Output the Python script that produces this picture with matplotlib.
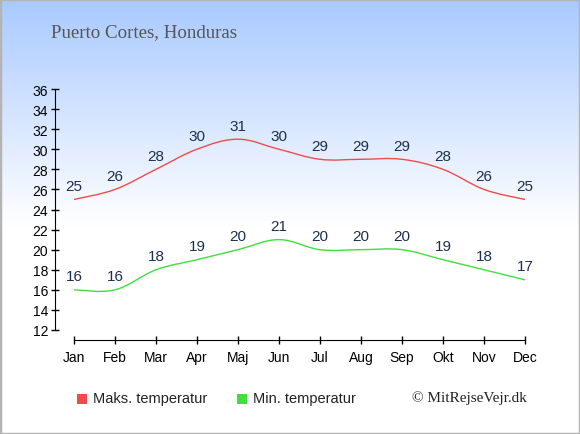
import numpy as np
import matplotlib
matplotlib.use("Agg")
import matplotlib.pyplot as plt
from matplotlib.path import Path
from matplotlib.patches import PathPatch, Rectangle

months = ["Jan", "Feb", "Mar", "Apr", "Maj", "Jun", "Jul", "Aug", "Sep", "Okt", "Nov", "Dec"]
max_temp = [25, 26, 28, 30, 31, 30, 29, 29, 29, 28, 26, 25]
min_temp = [16, 16, 18, 19, 20, 21, 20, 20, 20, 19, 18, 17]
yticks = list(range(12, 37, 2))

title = "Puerto Cortes, Honduras"
max_label = "Maks. temperatur"
min_label = "Min. temperatur"
credit = "\u00a9 MitRejseVejr.dk"

W, H = 580, 435
fig = plt.figure(figsize=(W / 100, H / 100), dpi=100)

# background gradient: light blue on top fading to white
bg = fig.add_axes([0, 0, 1, 1])
bg.set_axis_off()
g = np.linspace(0, 1, 256)
g = np.clip(g / 0.52, 0, 1)
top = np.array([0.66, 0.79, 1.0])
img = top[None, :] * (1 - g[:, None]) + np.ones(3)[None, :] * g[:, None]
bg.imshow(img[:, None, :].repeat(2, axis=1), aspect="auto", extent=[0, 1, 0, 1])
bg.set_xlim(0, 1)
bg.set_ylim(0, 1)
bg.add_patch(Rectangle((0, 0), 1, 1, transform=bg.transAxes, fill=False,
                       edgecolor="#b4b4b4", linewidth=2.5))

# plot area in pixels
x0, x1 = 55, 545
y_top, y_bot = 90, 331
ax = fig.add_axes([x0 / W, 1 - y_bot / H, (x1 - x0) / W, (y_bot - y_top) / H])
ax.patch.set_alpha(0)
ax.set_ylim(12, 36)
px_per_month = (525 - 74) / 11
ax.set_xlim(-(74 - x0) / px_per_month, -(74 - x0) / px_per_month + (x1 - x0) / px_per_month)

xs = np.arange(len(months))


def smooth_path(x, y, t=0.18):
    x = np.asarray(x, float)
    y = np.asarray(y, float)
    verts = [(x[0], y[0])]
    codes = [Path.MOVETO]
    n = len(x)
    for i in range(n - 1):
        p0 = i - 1 if i > 0 else i
        p3 = i + 2 if i + 2 < n else i + 1
        c1 = (x[i] + (x[i + 1] - x[p0]) * t, y[i] + (y[i + 1] - y[p0]) * t)
        c2 = (x[i + 1] - (x[p3] - x[i]) * t, y[i + 1] - (y[p3] - y[i]) * t)
        verts += [c1, c2, (x[i + 1], y[i + 1])]
        codes += [Path.CURVE4] * 3
    return Path(verts, codes)


ax.add_patch(PathPatch(smooth_path(xs, max_temp), fill=False, edgecolor="#f04b4b", linewidth=1.0))
ax.add_patch(PathPatch(smooth_path(xs, min_temp), fill=False, edgecolor="#3ee03e", linewidth=1.0))

lab_col = "#1e3050"
for xi, v in zip(xs, max_temp):
    ax.annotate(str(v), (xi, v), xytext=(0, 9.7), textcoords="offset points",
                ha="center", va="center", fontsize=11, color=lab_col, family="Liberation Sans")
for xi, v in zip(xs, min_temp):
    ax.annotate(str(v), (xi, v), xytext=(0, 9.7), textcoords="offset points",
                ha="center", va="center", fontsize=11, color=lab_col, family="Liberation Sans")

for s in ["top", "right"]:
    ax.spines[s].set_visible(False)
ax.spines["bottom"].set_position(("outward", 7.2))
ax.spines["bottom"].set_bounds(0, 11)
ax.spines["left"].set_bounds(12, 36)
ax.set_yticks(yticks)
ax.set_xticks(xs)
ax.set_xticklabels(months)
ax.tick_params(axis="both", direction="inout", length=6, width=1, labelsize=10,
               colors="black", pad=2)
ax.tick_params(axis="x", pad=4)
for lbl in ax.get_xticklabels() + ax.get_yticklabels():
    lbl.set_family("Liberation Sans")

fig.text(51 / W, 1 - 33 / H, title, family="Liberation Serif", fontsize=13.6,
         color="#555555", va="center", ha="left")

# legend
for px, col, txt in [(77, "#f04b4b", max_label), (237, "#3ee03e", min_label)]:
    fig.patches.append(Rectangle((px / W, 1 - 405 / H), 10 / W, 10 / H,
                                 transform=fig.transFigure, facecolor=col, edgecolor="none"))
    fig.text((px + 16) / W, 1 - 399 / H, txt, family="Liberation Sans", fontsize=10.5,
             color="#222222", va="center", ha="left")

fig.text(527 / W, 1 - 398 / H, credit, family="Liberation Serif", fontsize=11,
         color="#222222", va="center", ha="right")

fig.savefig("out.png", dpi=100)
